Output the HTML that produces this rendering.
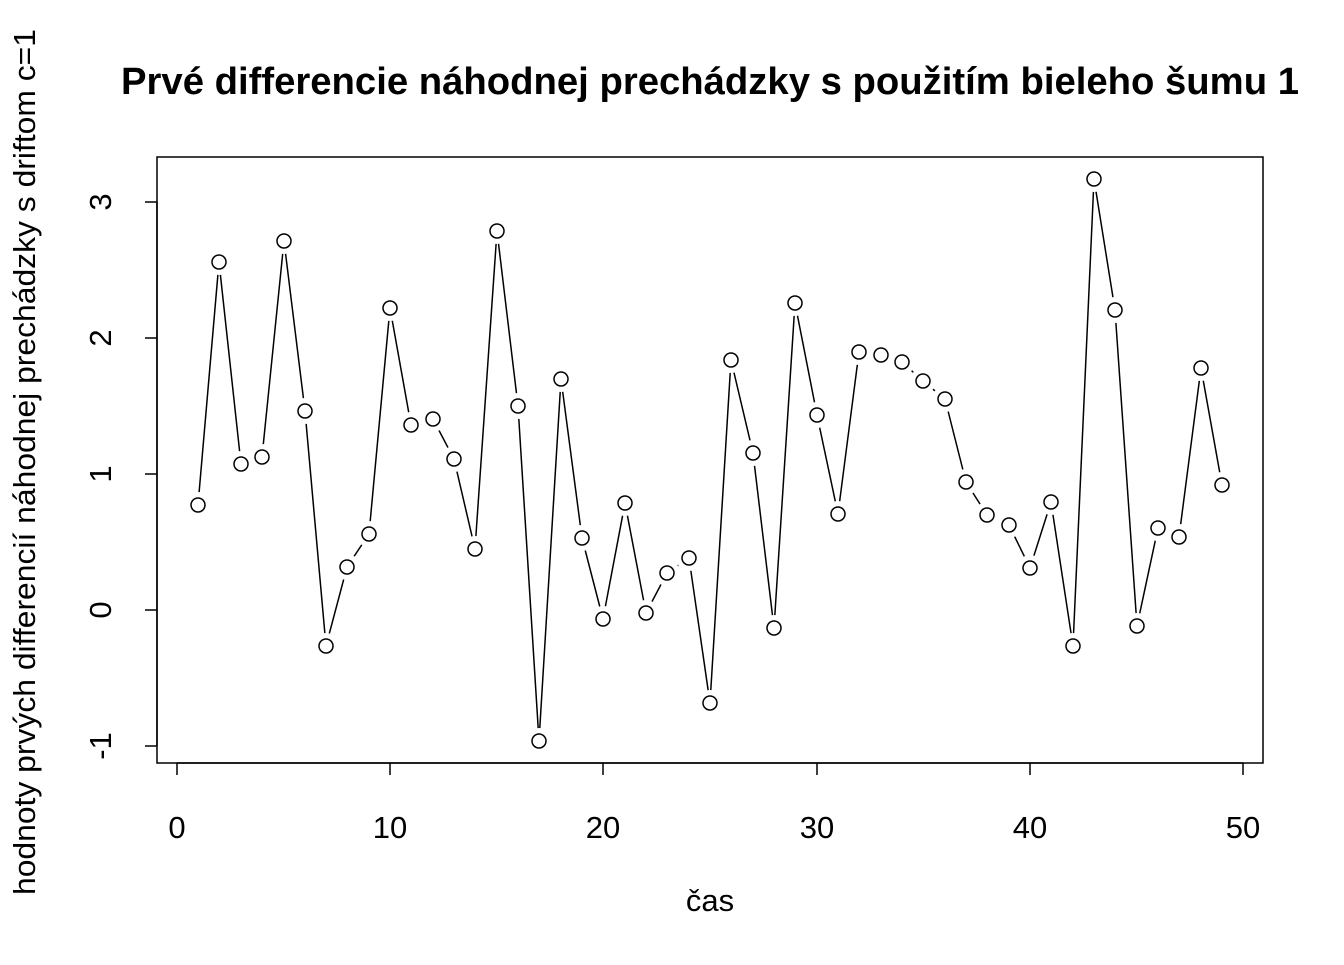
<!DOCTYPE html>
<html><head><meta charset="utf-8"><style>body{margin:0;background:#fff}</style></head><body>
<svg width="1344" height="960" xmlns="http://www.w3.org/2000/svg" font-family="Liberation Sans, Arial, sans-serif">
<rect width="1344" height="960" fill="#fff"/>
<text x="710" y="94" font-size="38" font-weight="bold" text-anchor="middle" textLength="1178" lengthAdjust="spacingAndGlyphs">Prvé differencie náhodnej prechádzky s použitím bieleho šumu 1</text>
<rect x="157" y="157" width="1106" height="606" fill="none" stroke="#000" stroke-width="1.5"/>
<g stroke="#000" stroke-width="1.5">
<line x1="177" y1="763" x2="1243" y2="763"/>
<line x1="177" y1="763" x2="177" y2="775"/><line x1="390" y1="763" x2="390" y2="775"/><line x1="603" y1="763" x2="603" y2="775"/><line x1="817" y1="763" x2="817" y2="775"/><line x1="1030" y1="763" x2="1030" y2="775"/><line x1="1243" y1="763" x2="1243" y2="775"/>
<line x1="157" y1="202" x2="157" y2="746"/>
<line x1="157" y1="202" x2="145" y2="202"/><line x1="157" y1="338" x2="145" y2="338"/><line x1="157" y1="474" x2="145" y2="474"/><line x1="157" y1="610" x2="145" y2="610"/><line x1="157" y1="746" x2="145" y2="746"/>
</g>
<g font-size="31" text-anchor="middle">
<text x="177" y="838">0</text><text x="390" y="838">10</text><text x="603" y="838">20</text><text x="817" y="838">30</text><text x="1030" y="838">40</text><text x="1243" y="838">50</text>
<text transform="translate(111,202) rotate(-90)">3</text>
<text transform="translate(111,338) rotate(-90)">2</text>
<text transform="translate(111,474) rotate(-90)">1</text>
<text transform="translate(111,610) rotate(-90)">0</text>
<text transform="translate(111,746) rotate(-90)">-1</text>
<text x="710" y="911">čas</text>
<text transform="translate(35,462) rotate(-90)" textLength="866" lengthAdjust="spacingAndGlyphs">hodnoty prvých differencií náhodnej prechádzky s driftom c=1</text>
</g>
<polyline fill="none" stroke="#000" stroke-width="1.5" points="198,505 219,262 241,464 262,457 284,241 305,411 326,646 347,567 369,534 390,308 411,425 433,419 454,459 475,549 497,231 518,406 539,741 561,379 582,538 603,619 625,503 646,613 667,573 689,558 710,703 731,360 753,453 774,628 795,303 817,415 838,514 859,352 881,355 902,362 923,381 945,399 966,482 987,515 1009,525 1030,568 1051,502 1073,646 1094,179 1115,310 1137,626 1158,528 1179,537 1201,368 1222,485"/>
<g fill="#fff" stroke="none">
<circle cx="198" cy="505" r="13"/><circle cx="219" cy="262" r="13"/><circle cx="241" cy="464" r="13"/><circle cx="262" cy="457" r="13"/><circle cx="284" cy="241" r="13"/><circle cx="305" cy="411" r="13"/><circle cx="326" cy="646" r="13"/><circle cx="347" cy="567" r="13"/><circle cx="369" cy="534" r="13"/><circle cx="390" cy="308" r="13"/><circle cx="411" cy="425" r="13"/><circle cx="433" cy="419" r="13"/><circle cx="454" cy="459" r="13"/><circle cx="475" cy="549" r="13"/><circle cx="497" cy="231" r="13"/><circle cx="518" cy="406" r="13"/><circle cx="539" cy="741" r="13"/><circle cx="561" cy="379" r="13"/><circle cx="582" cy="538" r="13"/><circle cx="603" cy="619" r="13"/><circle cx="625" cy="503" r="13"/><circle cx="646" cy="613" r="13"/><circle cx="667" cy="573" r="13"/><circle cx="689" cy="558" r="13"/><circle cx="710" cy="703" r="13"/><circle cx="731" cy="360" r="13"/><circle cx="753" cy="453" r="13"/><circle cx="774" cy="628" r="13"/><circle cx="795" cy="303" r="13"/><circle cx="817" cy="415" r="13"/><circle cx="838" cy="514" r="13"/><circle cx="859" cy="352" r="13"/><circle cx="881" cy="355" r="13"/><circle cx="902" cy="362" r="13"/><circle cx="923" cy="381" r="13"/><circle cx="945" cy="399" r="13"/><circle cx="966" cy="482" r="13"/><circle cx="987" cy="515" r="13"/><circle cx="1009" cy="525" r="13"/><circle cx="1030" cy="568" r="13"/><circle cx="1051" cy="502" r="13"/><circle cx="1073" cy="646" r="13"/><circle cx="1094" cy="179" r="13"/><circle cx="1115" cy="310" r="13"/><circle cx="1137" cy="626" r="13"/><circle cx="1158" cy="528" r="13"/><circle cx="1179" cy="537" r="13"/><circle cx="1201" cy="368" r="13"/><circle cx="1222" cy="485" r="13"/>
</g>
<g fill="#fff" stroke="#000" stroke-width="1.5">
<circle cx="198" cy="505" r="7"/><circle cx="219" cy="262" r="7"/><circle cx="241" cy="464" r="7"/><circle cx="262" cy="457" r="7"/><circle cx="284" cy="241" r="7"/><circle cx="305" cy="411" r="7"/><circle cx="326" cy="646" r="7"/><circle cx="347" cy="567" r="7"/><circle cx="369" cy="534" r="7"/><circle cx="390" cy="308" r="7"/><circle cx="411" cy="425" r="7"/><circle cx="433" cy="419" r="7"/><circle cx="454" cy="459" r="7"/><circle cx="475" cy="549" r="7"/><circle cx="497" cy="231" r="7"/><circle cx="518" cy="406" r="7"/><circle cx="539" cy="741" r="7"/><circle cx="561" cy="379" r="7"/><circle cx="582" cy="538" r="7"/><circle cx="603" cy="619" r="7"/><circle cx="625" cy="503" r="7"/><circle cx="646" cy="613" r="7"/><circle cx="667" cy="573" r="7"/><circle cx="689" cy="558" r="7"/><circle cx="710" cy="703" r="7"/><circle cx="731" cy="360" r="7"/><circle cx="753" cy="453" r="7"/><circle cx="774" cy="628" r="7"/><circle cx="795" cy="303" r="7"/><circle cx="817" cy="415" r="7"/><circle cx="838" cy="514" r="7"/><circle cx="859" cy="352" r="7"/><circle cx="881" cy="355" r="7"/><circle cx="902" cy="362" r="7"/><circle cx="923" cy="381" r="7"/><circle cx="945" cy="399" r="7"/><circle cx="966" cy="482" r="7"/><circle cx="987" cy="515" r="7"/><circle cx="1009" cy="525" r="7"/><circle cx="1030" cy="568" r="7"/><circle cx="1051" cy="502" r="7"/><circle cx="1073" cy="646" r="7"/><circle cx="1094" cy="179" r="7"/><circle cx="1115" cy="310" r="7"/><circle cx="1137" cy="626" r="7"/><circle cx="1158" cy="528" r="7"/><circle cx="1179" cy="537" r="7"/><circle cx="1201" cy="368" r="7"/><circle cx="1222" cy="485" r="7"/>
</g>
</svg>
</body></html>
